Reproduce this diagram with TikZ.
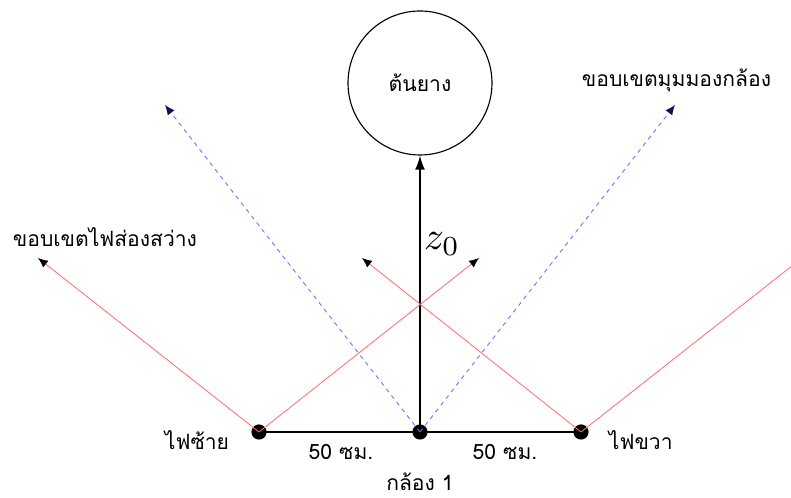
\documentclass[tikz,border=0pt]{standalone}
\usepackage{fontspec}
\newfontfamily\thaifont[Script=Thai]{Loma}
\definecolor{rayred}{HTML}{FF7070}
\definecolor{rayblue}{HTML}{6A6AFF}
\definecolor{tipblue}{HTML}{101050}
\usetikzlibrary{arrows.meta,positioning}

\begin{document}
\begin{tikzpicture}[
  thtext/.style={font=\thaifont\fontsize{15}{17}\selectfont},
  lamp/.style={circle,fill=black,inner sep=0pt,minimum size=0.38cm},
  lightray/.style={rayred,line width=0.6pt,-{Latex[black,length=7pt,width=6pt]}},
  viewray/.style={rayblue,dashed,line width=0.6pt,-{Latex[tipblue,length=7pt,width=6pt]}}
]
  \useasboundingbox (-10.5,-1.65) rectangle (9.275,10.8);
  % camera and lights
  \node[lamp] (cam) at (0,0) {};
  \node[lamp] (lampL) at (-4.025,0) {};
  \node[lamp] (lampR) at (4.025,0) {};
  \draw[line width=1.1pt] (lampL.center) -- (cam.center) -- (lampR.center);
  % tree
  \node[draw,circle,line width=0.8pt,minimum size=3.6cm,thtext] (tree) at (0,8.725) {ต้นยาง};
  \draw[line width=1.1pt,-{Latex[length=10pt,width=7pt]}] (cam.center) -- (tree.south);
  \node[scale=2.8] (zlbl) at (0.55,4.7) {$z_0$};
  % light limits
  \coordinate (LL) at (-9.55,4.35);
  \coordinate (LR) at (1.475,4.35);
  \coordinate (RL) at (-1.45,4.35);
  \coordinate (RR) at (9.55,4.35);
  \draw[lightray] (lampL.center) -- (LL);
  \draw[lightray] (lampL.center) -- (LR);
  \draw[lightray] (lampR.center) -- (RL);
  \draw[lightray] (lampR.center) -- (RR);
  % camera view limits
  \coordinate (VL) at (-6.375,8.175);
  \coordinate (VR) at (6.375,8.175);
  \draw[viewray] (cam.center) -- (VL);
  \draw[viewray] (cam.center) -- (VR);
  % labels
  \node[thtext,anchor=west] (lightlbl) at (-10.3,4.875) {ขอบเขตไฟส่องสว่าง};
  \node[thtext,anchor=east] (viewlbl) at (8.9,8.8) {ขอบเขตมุมมองกล้อง};
  \node[thtext,anchor=east] (lblL) at (-4.65,-0.2) {ไฟซ้าย};
  \node[thtext,anchor=west] (lblR) at (4.6,-0.2) {ไฟขวา};
  \node[thtext] (distL) at (-1.975,-0.5) {50 ซม.};
  \node[thtext] (distR) at (2.125,-0.5) {50 ซม.};
  \node[thtext] (camlbl) at (0,-1.25) {กล้อง 1};
\end{tikzpicture}
\end{document}
